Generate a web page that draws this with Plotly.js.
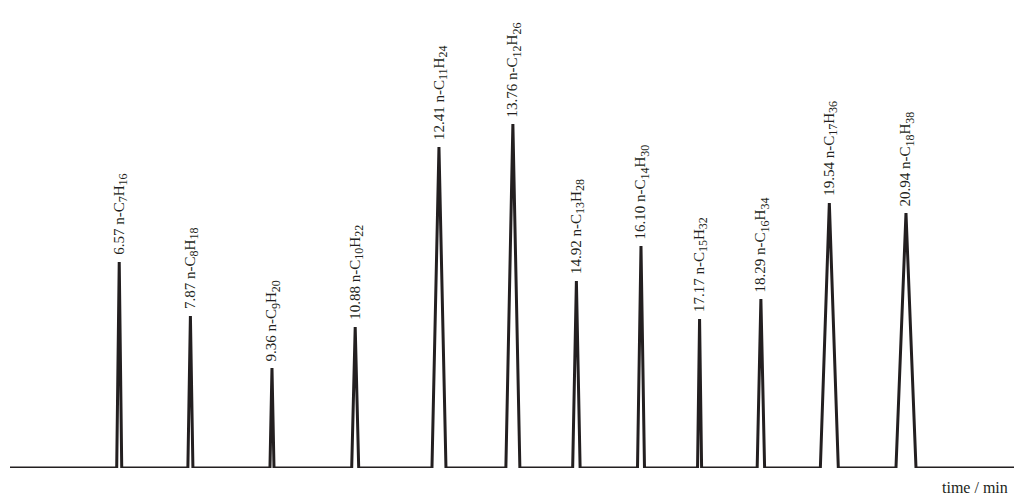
<!DOCTYPE html>
<html>
<head>
<meta charset="utf-8">
<script src="https://cdn.plot.ly/plotly-3.0.1.min.js"></script>
<style>html,body{margin:0;padding:0;background:#fff;}#chart{width:1014px;height:496px;}</style>
</head>
<body>
<div id="chart"></div>
<script>
// Retention times (min)
const retentionTimes = [6.57, 7.87, 9.36, 10.88, 12.41, 13.76, 14.92, 16.10, 17.17, 18.29, 19.54, 20.94];
// Carbon numbers of n-alkanes
const carbonNumbers = [7, 8, 9, 10, 11, 12, 13, 14, 15, 16, 17, 18];
// Peak heights (arbitrary units)
const peakHeights = [206, 152, 100, 141, 321, 344, 187, 222, 149, 169, 265, 255];
// Peak half-widths at base (min)
const peakHalfWidths = [0.046, 0.046, 0.037, 0.064, 0.128, 0.128, 0.068, 0.064, 0.037, 0.068, 0.164, 0.183];
// Recorded time span (min)
const timeStart = 4.575;
const timeEnd = 22.913;

const xs = [timeStart], ys = [0];
retentionTimes.forEach((t, i) => {
  xs.push(t - peakHalfWidths[i], t, t + peakHalfWidths[i]);
  ys.push(0, peakHeights[i], 0);
});
xs.push(timeEnd); ys.push(0);

const ink = '#231f20';
const serif = '"Liberation Serif", "DejaVu Serif", serif';
const sub = s => '<sub><span style="font-size:12px">' + s + '</span></sub>';

const annotations = retentionTimes.map((t, i) => ({
  x: t, y: peakHeights[i], xref: 'x', yref: 'y',
  text: t.toFixed(2) + ' n-C' + sub(carbonNumbers[i]) + 'H' + sub(2 * carbonNumbers[i] + 2),
  showarrow: false, textangle: -90, xanchor: 'center', yanchor: 'bottom',
  yshift: 5, xshift: 1,
  font: {family: serif, size: 15, color: ink}
}));
annotations.push({
  x: 1, y: 0, xref: 'paper', yref: 'paper', text: 'time / min',
  showarrow: false, xanchor: 'right', yanchor: 'top', yshift: -9, xshift: -4,
  font: {family: serif, size: 16, color: ink}
});

Plotly.newPlot('chart', [{
  x: xs, y: ys, mode: 'lines', type: 'scatter',
  line: {color: ink, width: 3}, hoverinfo: 'skip'
}], {
  width: 1014, height: 496,
  margin: {l: 10, r: 0, t: 68, b: 28},
  paper_bgcolor: '#fff', plot_bgcolor: '#fff',
  showlegend: false,
  xaxis: {range: [timeStart, timeEnd], showgrid: false, zeroline: false, showticklabels: false, showline: false, ticks: ''},
  yaxis: {range: [0, 400], showgrid: false, zeroline: false, showticklabels: false, showline: false, ticks: ''},
  annotations: annotations
}, {staticPlot: true});
</script>
</body>
</html>
